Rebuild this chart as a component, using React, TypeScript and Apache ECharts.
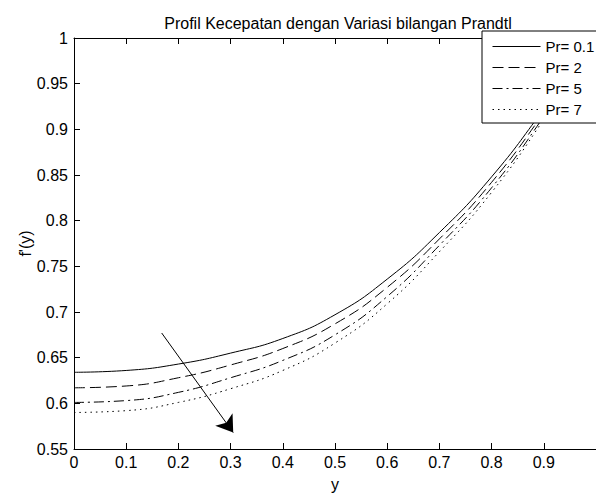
import React, { useEffect, useRef } from "react";
import * as echarts from "echarts";

// y positions (x-axis values)
const Y_POS = [0, 0.1, 0.2, 0.3, 0.4, 0.5, 0.6, 0.7, 0.8, 0.9, 1.0];
// f'(y) for each Prandtl number
const PR_01 = [0.634, 0.636, 0.643, 0.655, 0.671, 0.697, 0.736, 0.787, 0.848, 0.922, 1.0];
const PR_2 = [0.617, 0.619, 0.628, 0.642, 0.66, 0.687, 0.727, 0.78, 0.842, 0.918, 1.0];
const PR_5 = [0.601, 0.603, 0.612, 0.628, 0.647, 0.675, 0.717, 0.773, 0.836, 0.914, 1.0];
const PR_7 = [0.59, 0.592, 0.601, 0.616, 0.636, 0.666, 0.709, 0.766, 0.831, 0.911, 1.0];
const SERIES_NAMES = ["Pr= 0.1", "Pr= 2", "Pr= 5", "Pr= 7"];
// annotation arrow (data coordinates)
const ARROW_START = [0.168, 0.677];
const ARROW_END = [0.305, 0.568];

const FONT = "'Liberation Sans', Arial, Helvetica, sans-serif";

export default function App() {
  const ref = useRef<HTMLDivElement>(null);
  useEffect(() => {
    const chart = echarts.init(ref.current!, null, { renderer: "svg" });
    const values = [PR_01, PR_2, PR_5, PR_7];
    const dashes: any[] = ["solid", [11, 5], [10, 4, 2, 4], [1.5, 4]];
    const series: any[] = values.map((arr, i) => ({
      name: SERIES_NAMES[i],
      type: "line",
      xAxisIndex: 0,
      yAxisIndex: 0,
      data: Y_POS.map((x, j) => [x, arr[j]]),
      smooth: 0.5,
      symbol: "none",
      showSymbol: false,
      lineStyle: { color: "#000", width: 1, type: dashes[i] },
      itemStyle: { color: "#000" },
      z: 2,
    }));
    series[0].markLine = {
      silent: true,
      symbol: ["none", "arrow"],
      symbolSize: 16,
      label: { show: false },
      lineStyle: { color: "#000", width: 1, type: "solid" },
      data: [[{ coord: ARROW_START }, { coord: ARROW_END }]],
    };
    const tickStyle = { show: true, inside: true, length: 6, lineStyle: { color: "#000", width: 1 } };
    chart.setOption({
      animation: false,
      backgroundColor: "#fff",
      textStyle: { fontFamily: FONT },
      title: {
        text: "Profil Kecepatan dengan Variasi bilangan Prandtl",
        left: 338,
        top: 15,
        padding: 0,
        textAlign: "center",
        textStyle: { fontFamily: FONT, fontSize: 16, fontWeight: "normal", color: "#000" },
      },
      grid: { left: 74, top: 38, width: 528, height: 416, show: false },
      legend: {
        orient: "vertical",
        left: 482,
        top: 31,
        padding: [8, 10, 6, 10],
        itemGap: 6,
        itemWidth: 48,
        itemHeight: 14,
        backgroundColor: "#fff",
        borderColor: "#000",
        borderWidth: 1,
        borderRadius: 0,
        itemStyle: { opacity: 0 },
        lineStyle: { width: 1, color: "#000" },
        textStyle: { fontFamily: FONT, fontSize: 15, color: "#000" },
        data: SERIES_NAMES.map((name) => ({ name, itemStyle: { opacity: 0 } })),
      },
      xAxis: [
        {
          type: "value",
          min: 0,
          max: 1,
          interval: 0.1,
          position: "bottom",
          name: "y",
          nameLocation: "middle",
          nameGap: 27,
          nameMoveOverlap: false,
          nameTextStyle: { fontFamily: FONT, fontSize: 16, color: "#000" },
          axisLine: { show: true, onZero: false, lineStyle: { color: "#000", width: 1 } },
          axisTick: tickStyle,
          axisLabel: { show: true, margin: 5, showMaxLabel: false, color: "#000", fontFamily: FONT, fontSize: 16 },
          splitLine: { show: false },
        },
        {
          type: "value",
          min: 0,
          max: 1,
          interval: 0.1,
          position: "top",
          axisLine: { show: true, onZero: false, lineStyle: { color: "#000", width: 1 } },
          axisTick: tickStyle,
          axisLabel: { show: false },
          splitLine: { show: false },
        },
      ],
      yAxis: [
        {
          type: "value",
          min: 0.55,
          max: 1,
          interval: 0.05,
          position: "left",
          name: "f'(y)",
          nameLocation: "middle",
          nameRotate: 90,
          nameGap: 41,
          nameMoveOverlap: false,
          nameTextStyle: { fontFamily: FONT, fontSize: 16, color: "#000" },
          axisLine: { show: true, onZero: false, lineStyle: { color: "#000", width: 1 } },
          axisTick: tickStyle,
          axisLabel: { show: true, margin: 6, color: "#000", fontFamily: FONT, fontSize: 16 },
          splitLine: { show: false },
        },
      ],
      series,
    });
    return () => chart.dispose();
  }, []);
  return (
    <div
      ref={ref}
      style={{ position: "fixed", left: 0, top: 0, width: 596, height: 497, background: "#fff" }}
    />
  );
}
